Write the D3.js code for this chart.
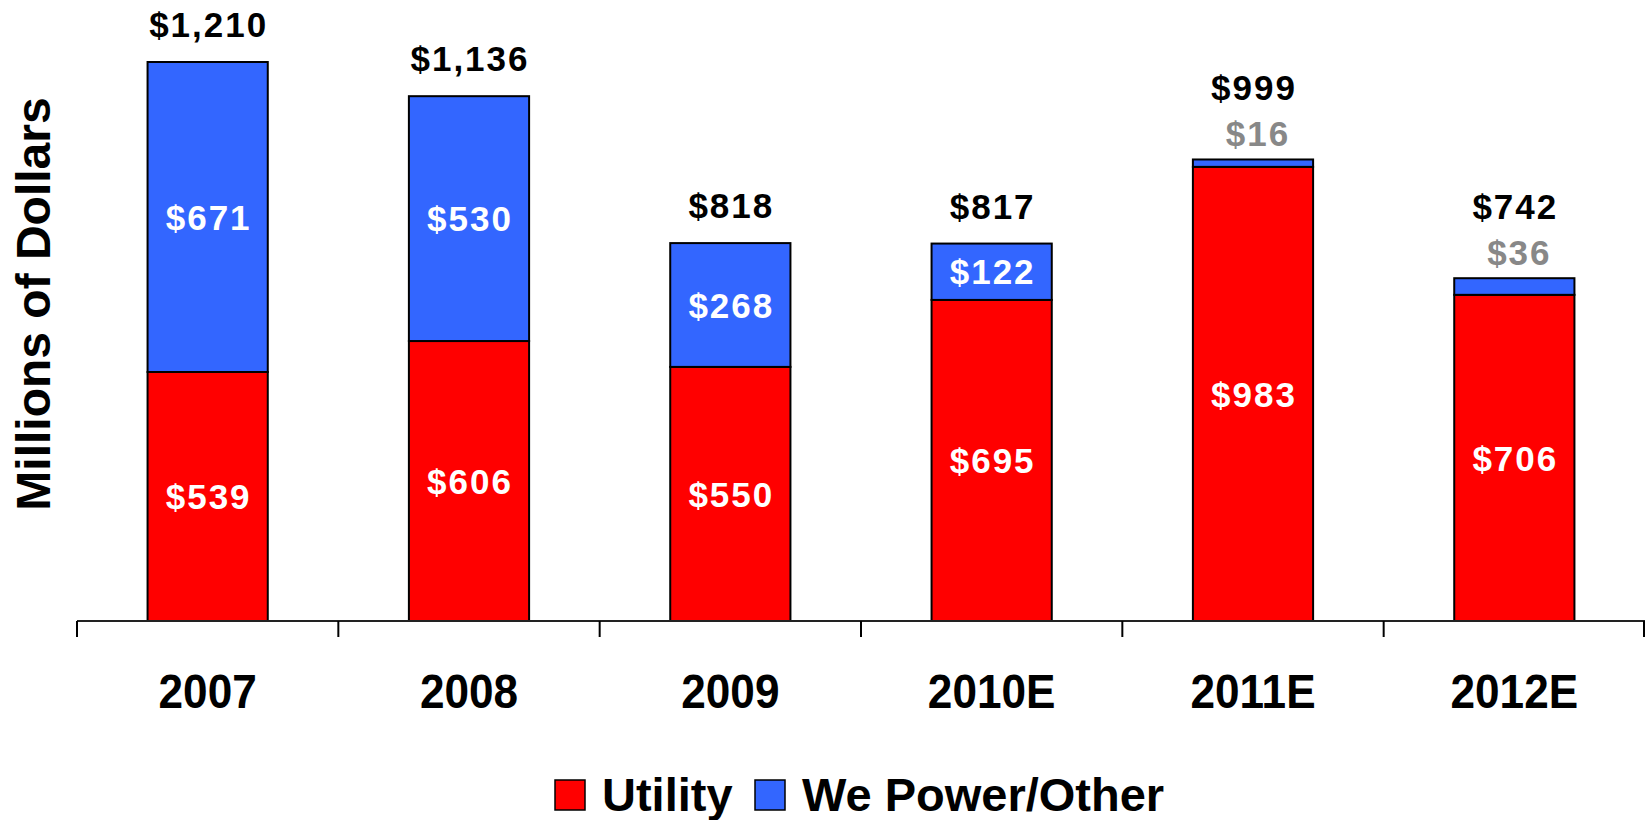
<!DOCTYPE html>
<html>
<head>
<meta charset="utf-8">
<script src="https://cdn.jsdelivr.net/npm/d3@7"></script>
<style>
    body { margin: 0; background: #fff; }
    svg text { font-family: "Liberation Sans", Arial, sans-serif; font-weight: bold; }
</style>
</head>
<body>
<div id="chart"></div>
<script>
// data
var categories = ["2007", "2008", "2009", "2010E", "2011E", "2012E"];
var utility = [539, 606, 550, 695, 983, 706];
var wePower = [671, 530, 268, 122, 16, 36];
var totals = [1210, 1136, 818, 817, 999, 742];
var seriesNames = ["Utility", "We Power/Other"];
var seriesColors = ["#ff0000", "#3366ff"];

var width = 1645, height = 820;
var margins = { top: 62, right: 0, bottom: 199, left: 77 };
var baseY = height - margins.bottom;

var svg = d3.select('#chart').append('svg')
    .attr('width', width)
    .attr('height', height);

var xScale = d3.scaleBand()
    .domain(categories)
    .range([margins.left, width - margins.right])
    .padding(0);

var yScale = d3.scaleLinear()
    .domain([0, d3.max(totals)])
    .range([baseY, margins.top]);

var barW = xScale.bandwidth() * 0.46;

var rows = categories.map(function (c, i) {
    return { cat: c, utility: utility[i], wePower: wePower[i], total: totals[i] };
});

// bars
var bars = svg.append('g').attr('class', 'bars');
rows.forEach(function (d) {
    var x0 = xScale(d.cat) + (xScale.bandwidth() - barW) / 2;
    bars.append('rect')
        .attr('x', x0)
        .attr('y', yScale(d.utility))
        .attr('width', barW)
        .attr('height', baseY - yScale(d.utility))
        .attr('fill', seriesColors[0])
        .attr('stroke', '#000')
        .attr('stroke-width', 2);
    bars.append('rect')
        .attr('x', x0)
        .attr('y', yScale(d.utility + d.wePower))
        .attr('width', barW)
        .attr('height', yScale(d.utility) - yScale(d.utility + d.wePower))
        .attr('fill', seriesColors[1])
        .attr('stroke', '#000')
        .attr('stroke-width', 2);
});

// axis line and ticks between categories
var axis = svg.append('g').attr('class', 'xAxis');
axis.append('line')
    .attr('x1', margins.left).attr('x2', width)
    .attr('y1', baseY).attr('y2', baseY)
    .attr('stroke', '#222').attr('stroke-width', 2);
var edges = categories.map(function (c) { return xScale(c); }).concat([xScale.range()[1] - 1]);
axis.selectAll('line.tick')
    .data(edges)
    .enter().append('line')
    .attr('class', 'tick')
    .attr('x1', function (d) { return d; })
    .attr('x2', function (d) { return d; })
    .attr('y1', baseY)
    .attr('y2', baseY + 16)
    .attr('stroke', '#000')
    .attr('stroke-width', 2);
axis.selectAll('text')
    .data(categories)
    .enter().append('text')
    .attr('transform', function (d) {
        return 'translate(' + (xScale(d) + xScale.bandwidth() / 2) + ',' + (baseY + 87) + ') scale(0.92,1)';
    })
    .attr('text-anchor', 'middle')
    .style('font-size', '48px')
    .text(function (d) { return d; });

// labels
var labels = svg.append('g').attr('class', 'labels');
var money = d3.format(',');
function valueLabel(x, y, color, txt) {
    return labels.append('text')
        .attr('x', x + 1)
        .attr('y', y)
        .attr('text-anchor', 'middle')
        .attr('fill', color)
        .style('font-size', '35px')
        .style('letter-spacing', '2px')
        .text(txt);
}
rows.forEach(function (d) {
    var cx = xScale(d.cat) + xScale.bandwidth() / 2;
    var top = yScale(d.total);
    valueLabel(cx, (yScale(d.utility) + baseY) / 2, '#fff', '$' + money(d.utility))
        .attr('dy', '0.36em');

    var totalY = top - 25;
    if (d.wePower >= 50) {
        valueLabel(cx, (yScale(d.utility) + top) / 2, '#fff', '$' + money(d.wePower))
            .attr('dy', '0.36em');
    } else {
        // small segment: grey label above the bar
        valueLabel(cx + 4, top - 13, '#888', '$' + money(d.wePower));
        totalY = top - 59;
    }
    valueLabel(cx, totalY, '#000', '$' + money(d.total));
});

// y axis title
svg.append('text')
    .attr('transform', 'translate(50,304) rotate(-90)')
    .attr('text-anchor', 'middle')
    .style('font-size', '48px')
    .text('Millions of Dollars');

// legend
var legendX = [555, 755];
var legend = svg.append('g').attr('class', 'legend');
seriesNames.forEach(function (name, i) {
    legend.append('rect')
        .attr('x', legendX[i]).attr('y', 780)
        .attr('width', 30).attr('height', 30)
        .attr('fill', seriesColors[i])
        .attr('stroke', '#000')
        .attr('stroke-width', 1.5);
    legend.append('text')
        .attr('x', legendX[i] + 47)
        .attr('y', 811)
        .style('font-size', '47px')
        .text(name);
});
</script>
</body>
</html>
